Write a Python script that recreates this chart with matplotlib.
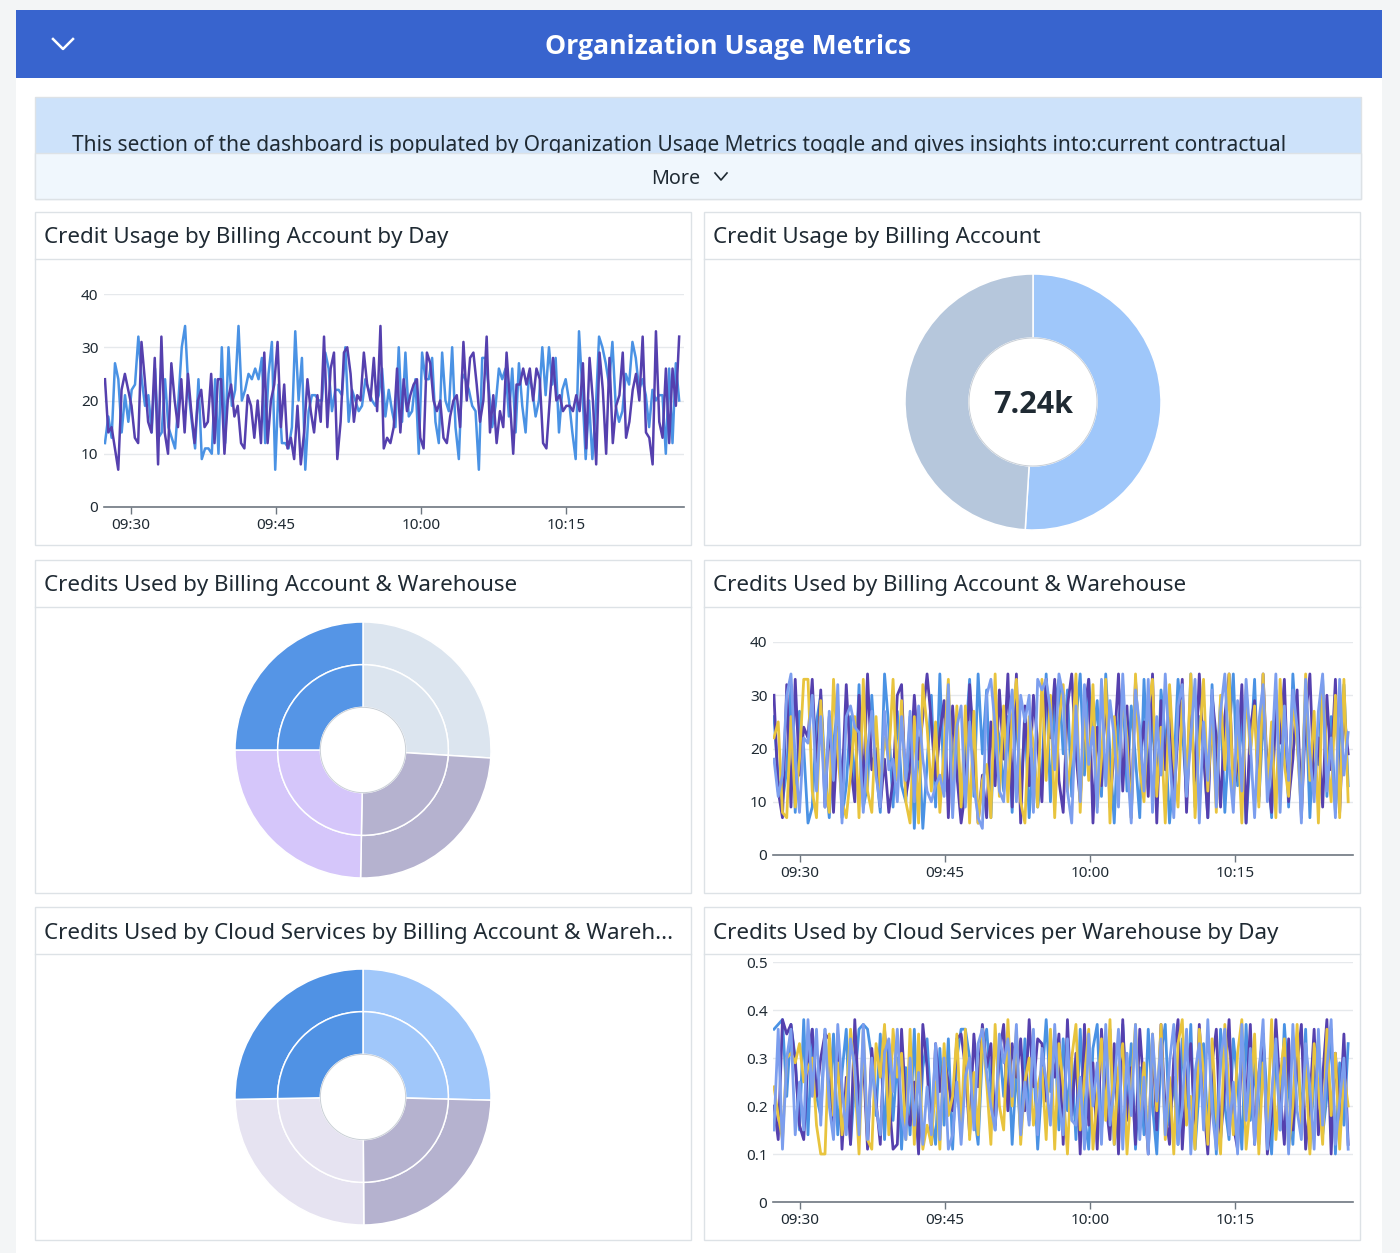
import matplotlib
matplotlib.use('Agg')
import matplotlib.pyplot as plt
from matplotlib.patches import Circle, Rectangle
import numpy as np

plt.rcParams['font.family'] = ['Noto Sans', 'DejaVu Sans']

W, H = 1400, 1253

# minutes after 09:00
tick_minutes = [30, 45, 60, 75]
tick_labels = ['09:30', '09:45', '10:00', '10:15']

usage_day_blue = [12, 17, 13, 27, 24, 14, 21, 16, 22, 23, 32, 24, 19, 21, 14, 26, 13, 14, 24, 15, 13, 11, 20, 30, 34, 22, 16, 11, 24, 9, 11, 11, 10, 24, 10, 30, 12, 30, 19, 22, 34, 20, 22, 25, 24, 26, 24, 28, 12, 25, 31, 7, 23, 12, 12, 11, 15, 33, 20, 28, 7, 18, 21, 21, 20, 20, 29, 26, 18, 22, 22, 21, 30, 16, 22, 20, 18, 19, 24, 22, 20, 19, 21, 26, 17, 22, 18, 15, 30, 16, 29, 17, 18, 24, 10, 29, 24, 24, 28, 16, 12, 29, 20, 18, 30, 15, 9, 25, 24, 22, 19, 18, 7, 28, 28, 22, 15, 19, 26, 24, 26, 17, 26, 14, 27, 19, 14, 25, 22, 17, 20, 30, 21, 30, 23, 28, 14, 22, 24, 20, 14, 9, 33, 22, 9, 20, 9, 18, 32, 30, 27, 23, 31, 19, 16, 18, 25, 23, 31, 28, 22, 24, 21, 15, 22, 20, 21, 21, 10, 26, 12, 27, 20]
usage_day_purple = [24, 14, 15, 11, 7, 22, 25, 22, 19, 13, 12, 31, 24, 16, 14, 28, 8, 32, 14, 10, 27, 20, 15, 24, 14, 25, 18, 12, 20, 22, 15, 16, 25, 12, 24, 24, 10, 20, 23, 17, 19, 12, 11, 21, 19, 13, 20, 12, 29, 12, 20, 23, 31, 15, 23, 11, 13, 9, 19, 8, 14, 24, 18, 14, 21, 16, 32, 15, 26, 29, 9, 16, 29, 30, 25, 16, 21, 20, 29, 23, 20, 28, 18, 34, 11, 13, 12, 15, 26, 14, 24, 18, 21, 23, 24, 13, 11, 29, 27, 20, 18, 20, 13, 12, 17, 20, 21, 15, 31, 20, 28, 29, 23, 16, 20, 32, 14, 21, 12, 18, 15, 29, 20, 10, 23, 23, 26, 23, 26, 20, 26, 24, 12, 11, 20, 28, 20, 21, 18, 19, 19, 18, 21, 18, 27, 11, 28, 20, 8, 29, 22, 10, 28, 12, 19, 21, 29, 13, 16, 22, 25, 20, 32, 14, 13, 8, 33, 16, 13, 26, 12, 26, 19, 32]

warehouse_blue = [26, 14, 10, 16, 32, 8, 27, 20, 6, 9, 25, 30, 16, 7, 21, 28, 7, 13, 26, 12, 32, 9, 13, 30, 16, 8, 34, 24, 9, 27, 13, 10, 26, 5, 22, 5, 17, 30, 9, 34, 12, 29, 16, 25, 8, 21, 33, 11, 34, 19, 31, 7, 26, 22, 12, 26, 8, 28, 10, 26, 7, 20, 9, 15, 34, 10, 28, 33, 19, 31, 11, 25, 34, 15, 33, 21, 29, 11, 34, 19, 6, 25, 32, 12, 28, 18, 7, 33, 14, 26, 9, 31, 22, 6, 16, 33, 24, 11, 34, 9, 26, 20, 7, 32, 15, 29, 8, 22, 34, 13, 27, 6, 19, 33, 10, 25, 18, 7, 31, 14, 28, 9, 34, 21, 12, 30, 7, 25, 17, 33, 11, 26, 8, 22, 32, 13]
warehouse_purple = [30, 12, 7, 32, 9, 33, 15, 24, 22, 33, 16, 31, 9, 26, 8, 24, 13, 32, 17, 10, 30, 12, 34, 16, 20, 9, 18, 8, 14, 30, 32, 11, 16, 30, 18, 26, 34, 25, 14, 23, 29, 7, 28, 15, 6, 12, 32, 21, 6, 15, 7, 25, 13, 31, 18, 34, 9, 34, 6, 28, 13, 30, 21, 10, 33, 22, 33, 14, 8, 28, 34, 19, 10, 27, 33, 6, 24, 13, 31, 9, 20, 34, 12, 28, 7, 33, 18, 25, 11, 34, 6, 29, 16, 31, 10, 23, 33, 8, 27, 14, 34, 19, 7, 30, 22, 9, 26, 34, 12, 17, 32, 6, 24, 29, 11, 34, 15, 8, 28, 21, 33, 10, 18, 31, 7, 26, 34, 13, 22, 9, 30, 16, 33, 8, 27, 19]
warehouse_yellow = [22, 25, 8, 7, 26, 9, 18, 33, 33, 12, 7, 29, 14, 8, 33, 19, 10, 7, 15, 26, 7, 33, 12, 8, 26, 12, 22, 18, 33, 14, 29, 10, 6, 26, 6, 32, 24, 12, 25, 8, 20, 33, 11, 28, 9, 28, 6, 27, 6, 14, 17, 7, 34, 11, 28, 10, 26, 33, 10, 6, 26, 21, 9, 33, 14, 30, 7, 25, 32, 12, 20, 34, 8, 27, 14, 32, 9, 18, 33, 6, 26, 13, 30, 22, 7, 34, 16, 10, 28, 33, 11, 24, 6, 32, 18, 9, 29, 14, 34, 7, 21, 33, 12, 26, 8, 30, 16, 34, 10, 23, 6, 31, 19, 28, 9, 34, 13, 25, 7, 33, 17, 11, 29, 21, 8, 34, 14, 27, 6, 32, 19, 10, 30, 7, 33, 10]
warehouse_light = [18, 11, 15, 30, 34, 18, 8, 22, 21, 30, 12, 26, 9, 27, 14, 32, 6, 26, 28, 24, 23, 8, 20, 27, 15, 9, 27, 16, 18, 10, 26, 14, 27, 10, 28, 18, 12, 10, 13, 15, 11, 32, 7, 24, 28, 9, 25, 13, 7, 5, 30, 33, 24, 12, 10, 24, 31, 10, 30, 25, 30, 8, 33, 31, 33, 27, 16, 34, 30, 12, 6, 28, 10, 32, 17, 24, 8, 33, 13, 29, 22, 9, 34, 18, 6, 31, 24, 12, 33, 8, 26, 15, 34, 19, 7, 28, 32, 11, 22, 33, 6, 25, 14, 31, 9, 27, 34, 17, 8, 29, 12, 33, 21, 7, 25, 32, 10, 18, 34, 8, 28, 14, 31, 24, 6, 33, 19, 10, 27, 34, 12, 22, 7, 33, 15, 23]

cloud_blue = [36, 37, 38, 22, 37, 30, 15, 38, 14, 36, 22, 18, 36, 20, 35, 14, 27, 36, 12, 25, 36, 37, 36, 30, 18, 35, 13, 33, 17, 30, 11, 28, 14, 36, 12, 28, 34, 18, 12, 32, 16, 34, 11, 30, 36, 36, 30, 19, 12, 31, 36, 24, 15, 33, 22, 33, 12, 28, 14, 34, 17, 30, 11, 25, 38, 23, 35, 15, 34, 19, 30, 13, 36, 18, 11, 32, 37, 15, 26, 36, 12, 22, 37, 19, 33, 11, 28, 14, 36, 20, 10, 31, 37, 16, 26, 12, 34, 18, 37, 11, 24, 33, 15, 29, 10, 36, 20, 13, 34, 25, 11, 37, 17, 29, 12, 35, 21, 10, 32, 15, 37, 24, 12, 30, 18, 36, 11, 26, 34, 14, 22, 36, 10, 29, 16, 33]
cloud_purple = [20, 13, 38, 35, 37, 29, 16, 13, 30, 36, 22, 30, 35, 34, 15, 35, 11, 26, 12, 38, 20, 30, 11, 32, 21, 12, 36, 22, 11, 12, 36, 20, 16, 25, 10, 37, 28, 12, 33, 23, 30, 25, 19, 34, 35, 28, 14, 35, 24, 37, 28, 33, 16, 31, 37, 19, 33, 26, 34, 19, 38, 24, 34, 33, 21, 33, 26, 35, 12, 38, 18, 31, 10, 37, 16, 29, 11, 36, 21, 13, 33, 10, 38, 17, 28, 12, 36, 23, 10, 34, 15, 37, 19, 12, 30, 38, 11, 26, 33, 14, 37, 21, 10, 29, 36, 13, 24, 38, 16, 11, 32, 20, 37, 12, 27, 35, 10, 18, 38, 23, 12, 34, 15, 29, 37, 11, 21, 36, 14, 26, 38, 10, 31, 17, 35, 12]
cloud_yellow = [24, 18, 13, 30, 31, 29, 33, 25, 28, 30, 16, 10, 10, 35, 18, 29, 14, 22, 36, 26, 10, 36, 13, 11, 33, 26, 37, 14, 36, 26, 31, 13, 36, 12, 35, 11, 16, 12, 25, 11, 33, 18, 22, 35, 15, 36, 13, 27, 14, 36, 25, 12, 37, 20, 15, 38, 20, 36, 12, 25, 30, 16, 24, 28, 13, 36, 11, 33, 24, 10, 30, 37, 15, 26, 36, 11, 22, 34, 17, 38, 12, 28, 33, 10, 24, 37, 15, 29, 11, 35, 19, 37, 13, 26, 10, 33, 38, 16, 22, 11, 36, 27, 12, 34, 18, 10, 37, 24, 14, 31, 38, 11, 21, 35, 10, 29, 16, 38, 13, 26, 34, 11, 20, 37, 15, 29, 10, 33, 24, 12, 36, 18, 31, 11, 27, 20]
cloud_light = [15, 36, 11, 30, 36, 14, 25, 15, 38, 22, 36, 16, 36, 20, 13, 37, 24, 14, 34, 28, 14, 37, 13, 30, 20, 14, 31, 34, 23, 36, 18, 13, 30, 16, 27, 12, 24, 14, 33, 13, 30, 11, 14, 25, 12, 26, 30, 15, 33, 36, 27, 20, 15, 35, 29, 34, 22, 37, 14, 25, 16, 36, 14, 32, 25, 16, 37, 21, 14, 34, 17, 16, 26, 11, 35, 20, 29, 12, 37, 16, 24, 36, 11, 31, 18, 37, 13, 26, 10, 35, 21, 34, 14, 29, 37, 12, 20, 36, 10, 27, 33, 15, 38, 19, 11, 30, 36, 14, 25, 10, 37, 17, 32, 12, 26, 38, 11, 22, 34, 15, 30, 10, 37, 19, 13, 33, 24, 11, 36, 16, 28, 38, 12, 21, 30, 11]

credit_slices = [3690, 3550]
credit_colors = ['#9FC7FA', '#B6C7DC']
warehouse_slices = [26.0, 24.3, 24.7, 25.0]
warehouse_colors = ['#DCE5EF', '#B5B2CF', '#D5C6FA', '#5595E6']
cloud_slices = [25.4, 24.5, 24.8, 25.3]
cloud_colors = ['#A0C7FA', '#B5B2CF', '#E6E3F1', '#5092E4']

BLUE = '#4A92E4'
PURPLE = '#5540AE'
YELLOW = '#E8C43E'
LIGHT = '#7C9EEE'
INK = '#1F2A33'
BORDER = '#DDE2E6'

fig = plt.figure(figsize=(W / 100, H / 100), dpi=100, facecolor='#F3F5F6')
bg = fig.add_axes([0, 0, 1, 1])
bg.set_xlim(0, W)
bg.set_ylim(H, 0)
bg.axis('off')


def px_axes(x0, y0, x1, y1):
    return fig.add_axes([x0 / W, 1 - y1 / H, (x1 - x0) / W, (y1 - y0) / H])


def rect(x0, y0, x1, y1, color, edge='none', z=1):
    bg.add_patch(Rectangle((x0, y0), x1 - x0, y1 - y0, facecolor=color, edgecolor=edge, lw=1, zorder=z))


def panel(x0, y0, title):
    x1 = x0 + 656
    rect(x0, y0, x1, y0 + 333, 'white', BORDER)
    bg.plot([x0, x1], [y0 + 47, y0 + 47], color=BORDER, lw=1, zorder=2)
    bg.text(x0 + 9, y0 + 26, title, fontsize=16.1, color=INK, va='center', zorder=3)


def line_chart(x0, y_zero, y_top, top, yticks, ylabels, series, lw):
    ax = px_axes(x0, y_top, x0 + 580, y_zero)
    ax.set_xlim(27.2, 87.2)
    ax.set_ylim(0, top)
    for values, color in series:
        ax.plot(np.linspace(27.3, 86.7, len(values)), values, color=color, lw=lw, solid_joinstyle='round')
    ax.set_yticks(yticks, ylabels)
    ax.set_xticks(tick_minutes, tick_labels)
    ax.grid(axis='y', color='#E6E9EC', lw=1)
    ax.set_axisbelow(True)
    ax.tick_params(axis='y', length=0, pad=4, labelsize=11, labelcolor=INK)
    ax.tick_params(axis='x', length=5, width=1, color='#6E7780', pad=3.2, labelsize=11, labelcolor=INK)
    for name in ['top', 'left', 'right']:
        ax.spines[name].set_visible(False)
    ax.spines['bottom'].set_color('#6E7780')
    ax.spines['bottom'].set_linewidth(1.2)
    ax.patch.set_alpha(0)
    return ax


def ring_chart(cx, cy, slices, colors):
    ax = px_axes(cx - 128, cy - 128, cx + 128, cy + 128)
    for radius in [1, 2 / 3]:
        ax.pie(slices, radius=radius, colors=colors, startangle=90, counterclock=False,
               wedgeprops=dict(width=1 / 3, edgecolor='white', linewidth=1.1))
    ax.add_patch(Circle((0, 0), 1 / 3, facecolor='white', edgecolor='#C9CFD6', lw=0.7))
    ax.set_xlim(-1, 1)
    ax.set_ylim(-1, 1)


# page frame and header
rect(16, 10, 1382, H, 'white')
rect(16, 10, 1382, 78, '#3864CE', z=2)
bg.plot([53, 63, 73], [39, 49, 39], color='white', lw=1.8, zorder=3)
bg.text(728, 46.5, 'Organization Usage Metrics', fontsize=19.2, family='Open Sans', fontweight='bold', color='white',
        ha='center', va='center', zorder=3)

# note box, the text is cut off by the "More" strip
rect(35, 97, 1361, 199, '#CDE2FA', BORDER)
bg.text(72, 145, 'This section of the dashboard is populated by Organization Usage Metrics toggle and gives insights into:current contractual',
        fontsize=15.06, color=INK, va='center', zorder=2)
rect(35, 153, 1361, 199, '#F0F7FD', BORDER, z=3)
bg.text(676, 178.5, 'More', fontsize=14.2, color=INK, ha='center', va='center', zorder=4)
bg.plot([715, 721, 727], [173, 180, 173], color=INK, lw=1.2, zorder=4)

panel(35, 212, 'Credit Usage by Billing Account by Day')
panel(704, 212, 'Credit Usage by Billing Account')
panel(35, 560, 'Credits Used by Billing Account & Warehouse')
panel(704, 560, 'Credits Used by Billing Account & Warehouse')
panel(35, 907, 'Credits Used by Cloud Services by Billing Account & Wareh...')
panel(704, 907, 'Credits Used by Cloud Services per Warehouse by Day')

count_ticks = [0, 10, 20, 30, 40]
count_labels = ['0', '10', '20', '30', '40']
line_chart(104, 507, 294, 40, count_ticks, count_labels,
           [(usage_day_blue, BLUE), (usage_day_purple, PURPLE)], 1.8)
line_chart(773, 855, 642, 40, count_ticks, count_labels,
           [(warehouse_blue, BLUE), (warehouse_purple, PURPLE), (warehouse_yellow, YELLOW), (warehouse_light, LIGHT)], 2.0)
line_chart(773, 1202, 962, 0.5, [0, 0.1, 0.2, 0.3, 0.4, 0.5], ['0', '0.1', '0.2', '0.3', '0.4', '0.5'],
           [(np.array(cloud_blue) / 100, BLUE), (np.array(cloud_purple) / 100, PURPLE),
            (np.array(cloud_yellow) / 100, YELLOW), (np.array(cloud_light) / 100, LIGHT)], 2.0)

donut = px_axes(905, 274, 1161, 530)
donut.pie(credit_slices, radius=1, colors=credit_colors, startangle=90, counterclock=False,
          wedgeprops=dict(width=0.5, edgecolor='white', linewidth=1.1))
donut.add_patch(Circle((0, 0), 0.5, facecolor='white', edgecolor='#C9CFD6', lw=0.7))
donut.set_xlim(-1, 1)
donut.set_ylim(-1, 1)
donut.text(0, -0.02, '7.24k', fontsize=22, family='Open Sans', fontweight='bold', color=INK, ha='center', va='center')

ring_chart(363, 750, warehouse_slices, warehouse_colors)
ring_chart(363, 1097, cloud_slices, cloud_colors)

fig.savefig('out.png', dpi=100, facecolor=fig.get_facecolor())
plt.close(fig)
